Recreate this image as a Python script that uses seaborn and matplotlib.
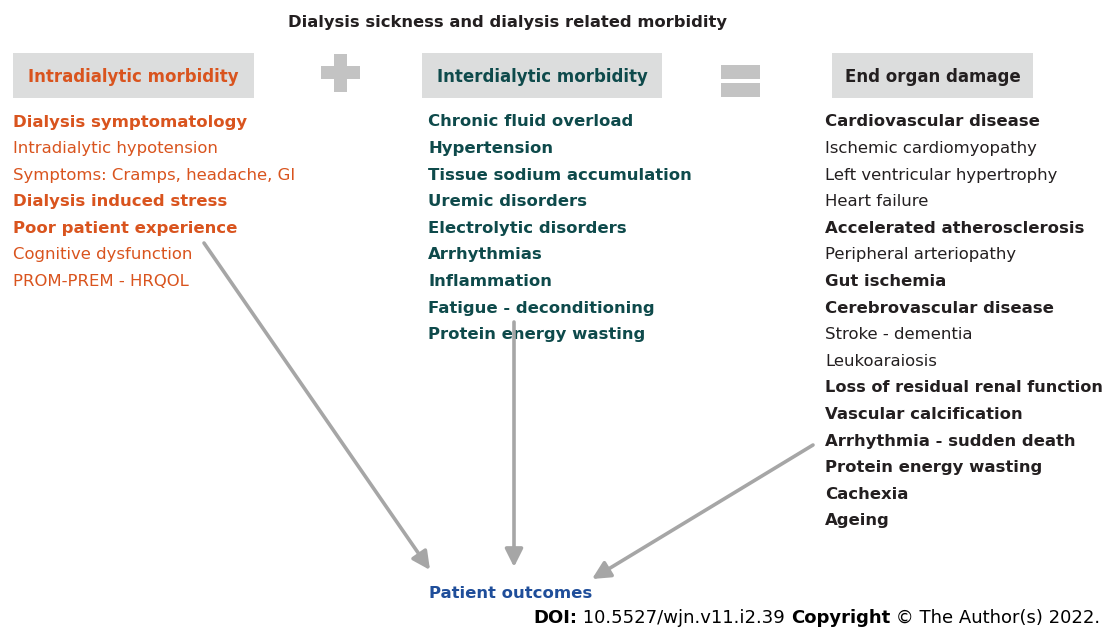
import matplotlib
matplotlib.use("Agg")
import matplotlib.pyplot as plt
import seaborn as sns
from matplotlib.patches import Rectangle

sns.set_theme(style="white")
plt.rcParams['font.family'] = ['DejaVu Sans']

# ---- data ----
title = "Dialysis sickness and dialysis related morbidity"
headers = ["Intradialytic morbidity", "Interdialytic morbidity", "End organ damage"]
left_items = ["Dialysis symptomatology", "Intradialytic hypotension", "Symptoms: Cramps, headache, GI",
              "Dialysis induced stress", "Poor patient experience", "Cognitive dysfunction", "PROM-PREM - HRQOL"]
left_bold = [1, 0, 0, 1, 1, 0, 0]
mid_items = ["Chronic fluid overload", "Hypertension", "Tissue sodium accumulation", "Uremic disorders",
             "Electrolytic disorders", "Arrhythmias", "Inflammation", "Fatigue - deconditioning",
             "Protein energy wasting"]
mid_bold = [1] * 9
right_items = ["Cardiovascular disease", "Ischemic cardiomyopathy", "Left ventricular hypertrophy",
               "Heart failure", "Accelerated atherosclerosis", "Peripheral arteriopathy", "Gut ischemia",
               "Cerebrovascular disease", "Stroke - dementia", "Leukoaraiosis",
               "Loss of residual renal function", "Vascular calcification", "Arrhythmia - sudden death",
               "Protein energy wasting", "Cachexia", "Ageing"]
right_bold = [1, 0, 0, 0, 1, 0, 1, 1, 0, 0, 1, 1, 1, 1, 1, 1]
outcome = "Patient outcomes"

ORANGE = "#D9541E"
TEAL = "#0E4A4B"
DARK = "#231F20"
BLUE = "#1F4E9A"
BOXC = "#DCDDDD"
SIGNC = "#C3C3C3"
ARROWC = "#A6A6A6"

fig = plt.figure(figsize=(11.05, 6.28), dpi=100)
ax = fig.add_axes([0, 0, 1, 1])
ax.set_xlim(0, 1105)
ax.set_ylim(628, 0)
ax.axis("off")
fig.canvas.draw()
r = fig.canvas.get_renderer()

FS = 11.85

ax.text(507, 22, title, ha="center", va="center", fontsize=11.75, fontweight="bold", color=DARK)

# header boxes
boxes = [(13, 254, ORANGE), (422, 662, TEAL), (832, 1033, DARK)]
for (x0, x1, c), h in zip(boxes, headers):
    ax.add_patch(Rectangle((x0, 53), x1 - x0, 45, facecolor=BOXC, edgecolor="none"))
    ax.text((x0 + x1) / 2, 76.5, h, ha="center", va="center", fontsize=12.0, fontweight="bold", color=c)

# plus sign
ax.add_patch(Rectangle((334, 54), 13, 38, facecolor=SIGNC, edgecolor="none"))
ax.add_patch(Rectangle((321, 66), 39, 13, facecolor=SIGNC, edgecolor="none"))
# equals sign
ax.add_patch(Rectangle((721, 65), 39, 14, facecolor=SIGNC, edgecolor="none"))
ax.add_patch(Rectangle((721, 83), 39, 14, facecolor=SIGNC, edgecolor="none"))

y0 = 122
dy = 26.6
XMAX = 1102
for items, bolds, x, c in [(left_items, left_bold, 13, ORANGE),
                           (mid_items, mid_bold, 428, TEAL),
                           (right_items, right_bold, 825, DARK)]:
    for i, (t, b) in enumerate(zip(items, bolds)):
        tx = ax.text(x, y0 + i * dy, t, ha="left", va="center", fontsize=FS,
                     fontweight="bold" if b else "normal", color=c)
        bb = tx.get_window_extent(renderer=r)
        if bb.x1 > XMAX:
            tx.set_fontsize(FS * (XMAX - x) / bb.width)

# arrows
arrows = [((204, 243), (430, 570)), ((514, 322), (514, 567)), ((813, 445), (592, 579))]
for (xs, ys), (xe, ye) in arrows:
    ax.annotate("", xy=(xe, ye), xytext=(xs, ys),
                arrowprops=dict(arrowstyle="-|>,head_length=0.9,head_width=0.45",
                                color=ARROWC, lw=2.6, shrinkA=0, shrinkB=0))

ax.text(429, 593, outcome, ha="left", va="center", fontsize=FS, fontweight="bold", color=BLUE)

# DOI line, right aligned
parts = [("DOI:", "bold"), (" 10.5527/wjn.v11.i2.39 ", "normal"), ("Copyright", "bold"),
         (" \u00a9 The Author(s) 2022.", "normal")]
x = 1100
for t, w in reversed(parts):
    tx = ax.text(x, 618, t, ha="right", va="center", fontsize=13.0, fontweight=w, color="black")
    bb = tx.get_window_extent(renderer=r)
    x -= bb.width

fig.savefig("out.png", dpi=100)
